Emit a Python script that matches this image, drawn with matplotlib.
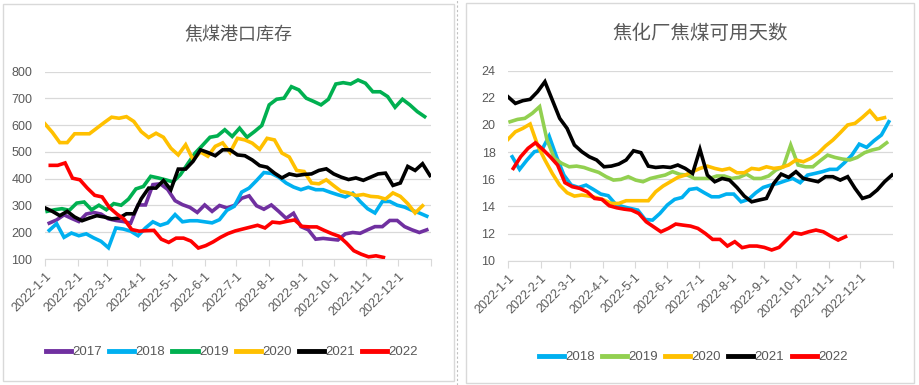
import numpy as np
import pandas as pd
import matplotlib
matplotlib.use("Agg")
import matplotlib.pyplot as plt
from matplotlib import font_manager
from matplotlib.patches import Rectangle
from matplotlib.lines import Line2D

names = {f.name for f in font_manager.fontManager.ttflist}
num_font = 'Liberation Sans Narrow' if 'Liberation Sans Narrow' in names else 'Liberation Sans'
plt.rcParams['font.family'] = [num_font, 'Noto Sans CJK SC', 'DejaVu Sans']

# ---- left: 焦煤港口库存 (weekly) ----
port_years = ['2017', '2018', '2019', '2020', '2021', '2022']
port_start = ['2022-01-05', '2022-01-05', '2022-01-03', '2022-01-01', '2022-01-01', '2022-01-06']
port_2017 = [234, 246, 265, 252, 240, 268, 274, 268, 250, 244, 240, 234, 302, 302, 378, 381, 360, 318,
             303, 293, 274, 302, 278, 300, 291, 300, 327, 336, 299, 286, 302, 278, 252, 271, 221, 209,
             174, 177, 174, 171, 194, 199, 196, 209, 221, 221, 244, 244, 221, 209, 199, 209]
port_2018 = [207, 232, 181, 197, 187, 194, 179, 166, 142, 216, 212, 204, 187, 216, 239, 226, 235, 266,
             239, 243, 243, 239, 235, 247, 282, 297, 350, 365, 393, 423, 420, 406, 384, 369, 359, 368,
             359, 359, 349, 340, 332, 346, 315, 288, 272, 315, 315, 301, 294, 282, 272, 260]
port_2019 = [278, 284, 288, 282, 309, 313, 284, 301, 284, 307, 301, 324, 362, 371, 409, 403, 396, 388,
             415, 456, 496, 525, 555, 560, 583, 558, 589, 555, 576, 599, 676, 697, 701, 744, 732, 701,
             689, 676, 697, 754, 759, 754, 769, 757, 725, 725, 707, 667, 697, 676, 651, 632]
port_2020 = [605, 573, 535, 535, 568, 568, 568, 589, 610, 630, 626, 632, 614, 576, 554, 570, 555, 514,
             489, 527, 471, 500, 484, 521, 534, 498, 551, 545, 533, 510, 551, 545, 496, 481, 431, 427,
             384, 381, 396, 374, 353, 347, 337, 341, 334, 332, 324, 347, 334, 307, 272, 299]
port_2021 = [291, 278, 262, 278, 257, 243, 253, 262, 257, 250, 253, 269, 269, 325, 365, 365, 393, 359,
             436, 436, 465, 508, 498, 486, 508, 508, 489, 486, 470, 449, 443, 421, 403, 418, 412, 416,
             418, 431, 437, 418, 406, 397, 403, 394, 406, 418, 421, 375, 384, 446, 431, 456, 412]
port_2022 = [450, 450, 459, 402, 396, 365, 338, 332, 292, 268, 248, 210, 204, 206, 207, 174, 162, 178,
             178, 167, 141, 150, 164, 181, 195, 205, 212, 219, 226, 216, 238, 235, 241, 246, 222, 220,
             220, 207, 195, 185, 160, 131, 118, 108, 112, 106]
port_values = [port_2017, port_2018, port_2019, port_2020, port_2021, port_2022]
port_colors = ['#7030A0', '#00B0F0', '#00B050', '#FFC000', '#000000', '#FF0000']

# ---- right: 焦化厂焦煤可用天数 (weekly) ----
days_years = ['2018', '2019', '2020', '2021', '2022']
days_start = ['2022-01-05', '2022-01-03', '2022-01-01', '2022-01-01', '2022-01-06']
days_2018 = [17.66, 16.73, 17.42, 18.03, 18.15, 19.18, 17.66, 16.31, 15.57, 15.40, 15.57, 15.25, 14.91,
             14.79, 14.17, 13.98, 13.85, 13.73, 13.04, 12.99, 13.48, 14.10, 14.52, 14.66, 15.25, 15.33,
             15.01, 14.71, 14.71, 14.91, 14.91, 14.34, 14.52, 15.01, 15.40, 15.57, 15.70, 15.89, 16.06,
             15.75, 16.31, 16.43, 16.56, 16.73, 16.73, 17.22, 17.78, 18.59, 18.35, 18.84, 19.26, 20.24]
days_2019 = [20.24, 20.41, 20.49, 20.86, 21.35, 18.89, 17.54, 17.17, 16.92, 16.97, 16.87, 16.68, 16.51,
             16.19, 15.94, 15.99, 16.19, 15.94, 15.82, 16.06, 16.19, 16.31, 16.56, 16.36, 16.31, 16.06,
             16.06, 16.06, 16.24, 16.24, 16.06, 16.14, 16.38, 16.06, 16.06, 16.24, 16.68, 16.92, 18.52,
             17.05, 16.92, 16.92, 17.37, 17.78, 17.61, 17.49, 17.42, 17.61, 17.96, 18.15, 18.28, 18.69]
days_2020 = [18.94, 19.50, 19.75, 20.07, 18.52, 17.42, 16.43, 15.57, 15.01, 14.76, 14.84, 14.76, 14.64,
             14.47, 14.22, 14.22, 14.42, 14.42, 14.42, 14.42, 15.08, 15.50, 15.82, 16.14, 16.31, 16.56,
             16.80, 16.97, 16.80, 16.68, 16.80, 16.48, 16.48, 16.80, 16.73, 16.92, 16.80, 16.87, 17.05,
             17.42, 17.29, 17.54, 17.91, 18.45, 18.89, 19.43, 20.00, 20.12, 20.56, 21.05, 20.41, 20.54]
days_2021 = [22.08, 21.59, 21.79, 21.89, 22.45, 23.19, 21.84, 20.49, 19.75, 18.52, 18.03, 17.66, 17.42,
             16.92, 16.97, 17.12, 17.42, 18.10, 17.96, 16.97, 16.87, 16.92, 16.87, 17.05, 16.80, 16.43,
             18.20, 16.31, 15.82, 16.06, 15.94, 15.40, 14.76, 14.34, 14.47, 14.59, 15.70, 16.38, 16.14,
             16.56, 16.06, 15.94, 15.82, 16.19, 16.19, 15.94, 16.19, 15.33, 14.59, 14.76, 15.21, 15.82, 16.31]
days_2022 = [16.80, 17.66, 18.28, 18.69, 18.20, 17.66, 17.05, 15.75, 15.45, 15.33, 15.08, 14.59, 14.52,
             14.05, 13.90, 13.80, 13.73, 13.48, 12.87, 12.50, 12.13, 12.38, 12.70, 12.62, 12.55, 12.38,
             12.01, 11.57, 11.57, 11.08, 11.40, 10.96, 11.08, 11.08, 10.98, 10.79, 10.98, 11.52, 12.06,
             11.96, 12.13, 12.26, 12.13, 11.81, 11.52, 11.77]
days_values = [days_2018, days_2019, days_2020, days_2021, days_2022]
days_colors = ['#00B0F0', '#92D050', '#FFC000', '#000000', '#FF0000']

month_ticks = list(pd.date_range('2022-01-01', '2022-12-01', freq='MS')) + [pd.Timestamp('2023-01-01')]
month_labels = [f'2022-{d.month}-1' for d in month_ticks[:-1]] + ['']

text_gray = '#595959'
grid_gray = '#D9D9D9'

fig = plt.figure(figsize=(9.19, 3.85), dpi=100)

# panel frames
fig.patches.append(Rectangle((3 / 919, 1 - 381 / 385), 451 / 919, 377 / 385, transform=fig.transFigure,
                             fill=False, edgecolor='#D9D9D9', lw=1))
fig.patches.append(Rectangle((466 / 919, 1 - 383 / 385), 448 / 919, 380 / 385, transform=fig.transFigure,
                             fill=False, edgecolor='#D9D9D9', lw=1))
fig.lines.append(Line2D([457 / 919, 457 / 919], [0, 1], transform=fig.transFigure,
                        color='#BFBFBF', lw=0.8, ls=(0, (2, 2))))


def style_axes(ax, ymin, ymax, step):
    ax.set_xlim(pd.Timestamp('2022-01-01'), pd.Timestamp('2023-01-01'))
    ax.set_ylim(ymin, ymax)
    ax.set_yticks(np.arange(ymin, ymax + step / 2, step))
    ax.set_xticks(month_ticks)
    ax.set_xticklabels(month_labels, rotation=45, ha='right', va='top', rotation_mode='anchor')
    for s in ['top', 'right', 'left']:
        ax.spines[s].set_visible(False)
    ax.spines['bottom'].set_color(grid_gray)
    ax.grid(axis='y', color=grid_gray, lw=0.9)
    ax.set_axisbelow(True)
    ax.tick_params(axis='y', length=0, pad=9, labelsize=9, labelcolor=text_gray)
    ax.tick_params(axis='x', length=5, color=grid_gray, pad=3, labelsize=9, labelcolor=text_gray)


def style_legend(leg):
    for t in leg.get_texts():
        t.set_color(text_gray)
    for h in leg.get_lines():
        h.set_linewidth(3.5)


ax1 = fig.add_axes([45 / 919, 1 - 259 / 385, 386 / 919, 187.3 / 385])
for yr, st, vals, c in zip(port_years, port_start, port_values, port_colors):
    dates = pd.date_range(st, periods=len(vals), freq='7D')
    ax1.plot(dates, vals, color=c, lw=2.6, label=yr, solid_joinstyle='miter')
style_axes(ax1, 100, 800, 100)
ax1.set_title('焦煤港口库存', fontsize=13, color=text_gray, family='Noto Sans CJK SC', pad=23)
leg1 = ax1.legend(loc='center', bbox_to_anchor=(232 / 919, 1 - 352 / 385), bbox_transform=fig.transFigure,
                  ncol=6, frameon=False, fontsize=9.5, handlelength=1.9, handletextpad=0.1,
                  columnspacing=0.55, borderaxespad=0)
style_legend(leg1)

ax2 = fig.add_axes([508 / 919, 1 - 260.7 / 385, 385 / 919, 190 / 385])
for yr, st, vals, c in zip(days_years, days_start, days_values, days_colors):
    dates = pd.date_range(st, periods=len(vals), freq='7D')
    ax2.plot(dates, vals, color=c, lw=2.6, label=yr, solid_joinstyle='miter')
style_axes(ax2, 10, 24, 2)
ax2.set_title('焦化厂焦煤可用天数', fontsize=14, color=text_gray, family='Noto Sans CJK SC', pad=23)
leg2 = ax2.legend(loc='center', bbox_to_anchor=(693 / 919, 1 - 357 / 385), bbox_transform=fig.transFigure,
                  ncol=5, frameon=False, fontsize=9.5, handlelength=1.9, handletextpad=0.1,
                  columnspacing=0.55, borderaxespad=0)
style_legend(leg2)

fig.savefig('out.png', dpi=100)
